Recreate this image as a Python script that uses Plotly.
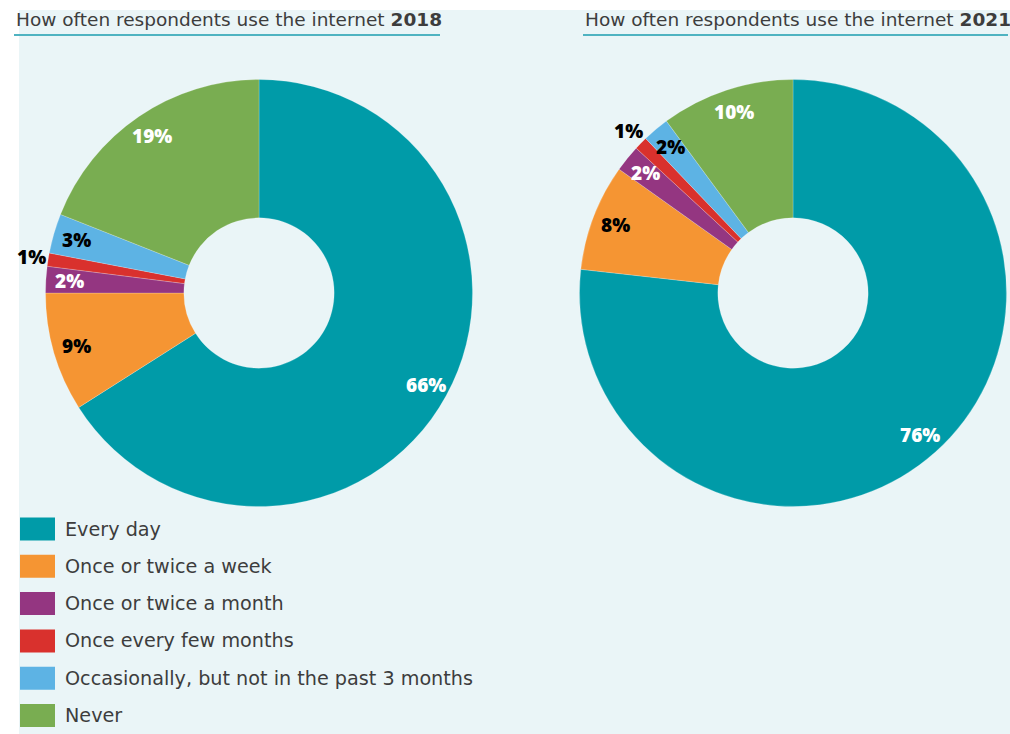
import math
import plotly.graph_objects as go

W, H = 1010, 734

categories = ["Every day", "Once or twice a week", "Once or twice a month",
              "Once every few months", "Occasionally, but not in the past 3 months", "Never"]
values_2018 = [66, 9, 2, 1, 3, 19]
values_2021 = [76, 8, 2, 1, 2, 10]
years = ["2018", "2021"]
colors = ["#009ba8", "#f59533", "#943681", "#d9312d", "#5db3e4", "#79ad51"]
label_colors = ["white", "black", "white", "black", "black", "white"]

BG = "#eaf5f7"
TEXT = "#3d3d3d"


def px(x):
    return x / W


def py(y):
    return 1 - y / H


R = 213.5
centers = [(259, 293), (793, 293)]

fig = go.Figure()
annotations = []
shapes = []

# panel background
shapes.append(dict(type="rect", xref="paper", yref="paper", x0=px(19), x1=px(W), y0=py(H), y1=py(10),
                   fillcolor=BG, line=dict(width=0), layer="below"))

for (cx, cy), vals, year in zip(centers, [values_2018, values_2021], years):
    fig.add_trace(go.Pie(
        labels=categories, values=vals, sort=False, direction="clockwise", rotation=0,
        hole=0.352, marker=dict(colors=colors, line=dict(color="rgba(255,255,255,0.35)", width=0.6)),
        textinfo="none", hoverinfo="label+percent", showlegend=False,
        domain=dict(x=[px(cx - R), px(cx + R)], y=[py(cy + R), py(cy - R)]),
    ))
    total = sum(vals)
    cum = 0
    for v, lc in zip(vals, label_colors):
        frac = (cum + v / 2) / total
        cum += v
        th = 2 * math.pi * frac
        rf = 1.08 if v <= 1 else 0.89
        r = R * rf
        annotations.append(dict(
            x=px(cx + r * math.sin(th)), y=py(cy - r * math.cos(th)), xref="paper", yref="paper",
            text=f"{v}%", showarrow=False, xanchor="center", yanchor="middle",
            font=dict(family="Open Sans", size=19, color=lc, weight=800)))

# titles
title_x = [(14, 440), (583, 1008)]
for (x0, x1), year in zip(title_x, years):
    annotations.append(dict(
        x=px(x0), y=py(20), xref="paper", yref="paper", xanchor="left", yanchor="middle",
        text=f"How often respondents use the internet <b>{year}</b>", showarrow=False,
        font=dict(family="DejaVu Sans", size=18.5, color=TEXT)))
    shapes.append(dict(type="line", xref="paper", yref="paper", x0=px(x0), x1=px(x1),
                       y0=py(35), y1=py(35), line=dict(color="#4fb3c1", width=2)))

# legend
for i, (cat, col) in enumerate(zip(categories, colors)):
    yc = 529 + i * 37.3
    shapes.append(dict(type="rect", xref="paper", yref="paper", x0=px(20), x1=px(55),
                       y0=py(yc + 11.5), y1=py(yc - 11.5), fillcolor=col, line=dict(width=0)))
    annotations.append(dict(
        x=px(63), y=py(yc), xref="paper", yref="paper", xanchor="left", yanchor="middle",
        text=cat, showarrow=False, font=dict(family="DejaVu Sans", size=19.2, color=TEXT)))

fig.update_layout(
    width=W, height=H, margin=dict(l=0, r=0, t=0, b=0),
    paper_bgcolor="white", plot_bgcolor="white",
    annotations=annotations, shapes=shapes, showlegend=False,
)

fig.write_html("out.html", config={"displayModeBar": False},
               post_script="document.body.style.margin='0';document.body.style.overflow='hidden';")
